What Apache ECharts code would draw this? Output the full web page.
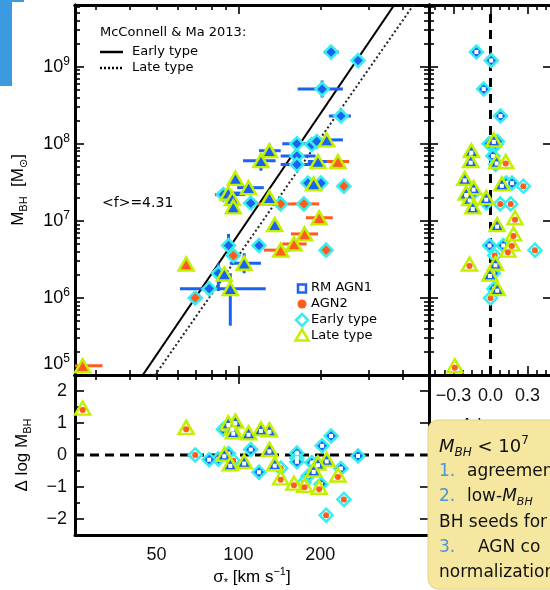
<!DOCTYPE html>
<html>
<head>
<meta charset="utf-8">
<title>MBH - sigma relation</title>
<script src="https://cdn.jsdelivr.net/npm/echarts@6.0.0/dist/echarts.min.js"></script>
<style>
html,body{margin:0;padding:0;background:#ffffff;}
#chart{width:550px;height:590px;}
</style>
</head>
<body>
<div id="chart"></div>
<script>
// ===== Data =====
// stellar velocity dispersion sigma_* (km/s)
const sigma = [219, 275, 203, 238, 211, 164, 186, 194, 164, 196,
               232, 164, 130, 121, 180, 201, 189, 244, 97.5, 109,
               91.8, 88.1, 95, 95.8, 111, 130, 143, 174, 198, 136,
               175, 160, 143, 119, 210, 64.3, 92, 95.8, 105, 84.4,
               88.8, 78.1, 93.4, 69.4, 26.8];
// log10 black-hole mass (Msun)
const logMbh = [9.19, 9.08, 8.71, 8.36, 8.05, 8.00, 7.99, 8.03, 7.84, 7.77,
                7.77, 7.73, 7.91, 7.78, 7.49, 7.49, 7.48, 7.45, 7.55, 7.43,
                7.36, 7.34, 7.29, 7.18, 7.23, 7.30, 7.22, 7.22, 7.04, 6.95,
                6.83, 6.70, 6.62, 6.68, 6.62, 6.44, 6.68, 6.55, 6.45, 6.32,
                6.31, 6.12, 6.12, 6.00, 5.12];
// host morphology: E = early type, L = late type
const morphology = ['E','E','E','E','L','E','E','E','E','L',
                    'L','E','L','L','E','E','L','E','L','L',
                    'L','E','L','L','E','L','E','E','L','L',
                    'L','L','L','E','E','L','E','E','L','E',
                    'L','E','L','E','L'];
// AGN class: 1 = RM AGN1, 2 = AGN2
const agnClass = [1,1,1,1,1,1,1,1,1,1,
                  2,1,1,1,1,1,1,2,1,1,
                  1,1,1,1,1,1,2,2,2,1,
                  2,2,2,1,2,2,1,2,1,1,
                  1,1,1,2,2];
// error-bar ends (sigma in km/s, mass in log10 Msun); null = no bar drawn
const sigmaErrLow = [206, null, 165, 215, 189, 145, null, null, 143, 180,
                     211, 143, 119, 104, null, null, null, null, null, 99,
                     84, 82, null, null, null, null, 113, 156, 177, null,
                     156, 145, 124, null, null, null, null, null, 93, null,
                     null, null, 61, null, 25.1];
const sigmaErrHigh = [234, null, 242, 259, 242, 188, null, null, 192, 215,
                      255, 206, 143, 137, null, null, null, null, null, 124,
                      102, 106, null, null, null, null, 156, 198, 222, null,
                      196, 178, 156, null, null, null, null, null, 121, null,
                      null, null, 126, null, 31.7];
const logMErrLow = [null, null, 8.60, null, null, null, null, null, null, null,
                    null, null, null, 7.65, null, null, null, null, null, null,
                    null, null, null, null, null, null, null, null, null, null,
                    null, null, null, null, null, null, 6.52, null, 6.32, 6.09,
                    null, null, 5.64, null, null];
const logMErrHigh = [null, null, 8.82, null, null, null, null, null, null, null,
                     null, null, null, 7.87, null, null, null, null, null, null,
                     null, null, null, null, null, null, null, null, null, null,
                     null, null, null, null, null, null, 6.83, null, 6.58, 6.45,
                     null, null, 6.32, null, null];
// McConnell & Ma 2013 relations: log M = a + b log(sigma/200)
const mm13Early = {a: 8.39, b: 5.20};
const mm13Late  = {a: 8.07, b: 5.06};
const sigmaRef = 200;
// tick values / labels
const massDecades = [5, 6, 7, 8, 9];
const sigmaLabels = [50, 100, 200];
const sigmaMajor = [100];
const sigmaMinor = [30, 40, 50, 60, 70, 80, 90, 200, 300, 400];
const residualTicks = [-2, -1, 0, 1, 2];
const residualMinor = [-1.5, -0.5, 0.5, 1.5];
const dSigmaTicks = [-0.3, 0, 0.3];
const dSigmaMinorStep = 0.075;

// ===== derived =====
const lg = Math.log10;
const LS0 = lg(sigmaRef);
const X_RANGE = [1.4, 2.7], Y_RANGE = [5, 9.8], R_RANGE = [-2.5, 2.5], DS_RANGE = [-0.5, 0.5];
const FONT = 'Liberation Sans, DejaVu Sans, Arial, sans-serif';
const LFONT = 'DejaVu Sans, sans-serif';
const BLUE = '#1a62f2', CYAN = '#36eeee', YG = '#c2f000', ORANGE = '#ff5a1f';

const rel = m => (m === 'E' ? mm13Early : mm13Late);
const pts = sigma.map((s, i) => {
  const ls = lg(s), lm = logMbh[i], r = rel(morphology[i]);
  const dM = lm - (r.a + r.b * (ls - LS0));
  const dS = ls - ((lm - r.a) / r.b + LS0);
  return {i, ls, lm, dM, dS, m: morphology[i], c: agnClass[i]};
});

const massMinor = [];
massDecades.forEach(d => { for (let k = 2; k <= 9; k++) { const v = d + lg(k); if (v <= Y_RANGE[1]) massMinor.push(v); } });
const dsMinor = [];
for (let k = -6; k <= 6; k++) { if (k % 4 !== 0) dsMinor.push(+(k * dSigmaMinorStep).toFixed(4)); }

const TICK_RICH = {
  b: {fontSize: 18, fontFamily: FONT, color: '#000', lineHeight: 22},
  s: {fontSize: 12, fontFamily: FONT, color: '#000', lineHeight: 12, verticalAlign: 'top'}
};
const NAME_RICH = {
  t: {fontSize: 17, fontFamily: FONT, color: '#000', lineHeight: 22},
  sub: {fontSize: 11, fontFamily: FONT, color: '#000', lineHeight: 11, verticalAlign: 'bottom'},
  sup: {fontSize: 11, fontFamily: FONT, color: '#000', lineHeight: 11, verticalAlign: 'top'}
};

function ax(grid, pos, range, ticks, len, extra) {
  return Object.assign({
    type: 'value', gridIndex: grid, position: pos, min: range[0], max: range[1],
    axisLine: {show: true, onZero: false, lineStyle: {color: '#000', width: 3}},
    axisTick: {show: ticks.length > 0, inside: true, length: len, customValues: ticks,
               lineStyle: {color: '#000', width: 1.6}},
    axisLabel: {show: false},
    splitLine: {show: false}
  }, extra || {});
}

const lgMajor = sigmaMajor.map(lg), lgMinor = sigmaMinor.map(lg);

const xAxes = [
  ax(0, 'bottom', X_RANGE, lgMajor, 9),
  ax(0, 'bottom', X_RANGE, lgMinor, 5),
  ax(0, 'top', X_RANGE, lgMajor, 9),
  ax(0, 'top', X_RANGE, lgMinor, 5),
  ax(1, 'bottom', X_RANGE, [], 0, {
    axisLabel: {show: true, customValues: sigmaLabels.map(lg), formatter: v => String(Math.round(Math.pow(10, v))),
                margin: 11, fontSize: 18, fontFamily: FONT, color: '#111'},
    name: '{t|σ}{sub|*}{t| [km s}{sup|−1}{t|]}', nameLocation: 'middle', nameGap: 31,
    nameTextStyle: {rich: NAME_RICH}
  }),
  ax(1, 'top', X_RANGE, lgMajor, 9),
  ax(1, 'top', X_RANGE, lgMinor, 5),
  ax(2, 'bottom', DS_RANGE, dSigmaTicks, 9, {
    axisLabel: {show: true, customValues: dSigmaTicks,
                formatter: v => (v < 0 ? '\u2212' : '') + Math.abs(v).toFixed(1),
                margin: 12, fontSize: 18, fontFamily: FONT, color: '#111'},
    name: '{t|Δ log σ}{sub|*}', nameLocation: 'middle', nameGap: 39,
    nameTextStyle: {rich: NAME_RICH}
  }),
  ax(2, 'bottom', DS_RANGE, dsMinor, 5),
  ax(2, 'top', DS_RANGE, dSigmaTicks, 9),
  ax(2, 'top', DS_RANGE, dsMinor, 5)
];

const yAxes = [
  ax(0, 'left', Y_RANGE, massDecades, 9, {
    axisLabel: {show: true, customValues: massDecades, formatter: v => '{b|10}{s|' + Math.round(v) + '}',
                margin: 5, rich: TICK_RICH, verticalAlignMinLabel: 'bottom'},
    name: '{t|M}{sub|BH}{t|  [M}{sub|⊙}{t|]}', nameLocation: 'middle', nameRotate: 90, nameGap: 46,
    nameTextStyle: {rich: NAME_RICH}
  }),
  ax(0, 'left', Y_RANGE, massMinor, 5),
  ax(0, 'right', Y_RANGE, massDecades, 9),
  ax(0, 'right', Y_RANGE, massMinor, 5),
  ax(1, 'left', R_RANGE, residualTicks, 9, {
    axisLabel: {show: true, customValues: residualTicks,
                formatter: v => (v < 0 ? '\u2212' : '') + Math.abs(v),
                margin: 8, fontSize: 18, fontFamily: FONT, color: '#111'},
    name: '{t|Δ log M}{sub|BH}', nameLocation: 'middle', nameRotate: 90, nameGap: 42,
    nameTextStyle: {rich: NAME_RICH}
  }),
  ax(1, 'left', R_RANGE, residualMinor, 5),
  ax(1, 'right', R_RANGE, residualTicks, 9),
  ax(2, 'left', Y_RANGE, massDecades, 9),
  ax(2, 'left', Y_RANGE, massMinor, 5),
  ax(2, 'right', Y_RANGE, massDecades, 9)
];

// ===== series =====
const SYM = {E: {symbol: 'diamond', size: 13}, L: {symbol: 'triangle', size: [15, 13]}};
const EDGE = {E: CYAN, L: YG};

function markerSeries(xi, yi, fx, fy, detailed) {
  const out = [];
  ['E', 'L'].forEach(m => {
    [1, 2].forEach(c => {
      const data = pts.filter(p => p.m === m && p.c === c).map(p => [fx(p), fy(p)]);
      if (!data.length) return;
      const fill = detailed ? (c === 1 ? BLUE : '#ffffff') : (c === 1 ? BLUE : ORANGE);
      out.push({type: 'scatter', xAxisIndex: xi, yAxisIndex: yi, data, symbol: SYM[m].symbol,
                symbolSize: SYM[m].size, silent: true, z: m === 'E' ? 3 : 4,
                itemStyle: {color: fill, borderColor: EDGE[m], borderWidth: 2.5, opacity: 1}});
      if (detailed) {
        out.push({type: 'scatter', xAxisIndex: xi, yAxisIndex: yi, data,
                  symbol: c === 1 ? 'rect' : 'circle', symbolSize: c === 1 ? 4 : 6,
                  symbolOffset: m === 'L' ? [0, 2] : [0, 0], silent: true, z: m === 'E' ? 3 : 4,
                  itemStyle: {color: c === 1 ? '#ffffff' : ORANGE, opacity: 1}});
      }
    });
  });
  return out;
}

const errData = pts.map(p => [p.ls, p.lm,
  sigmaErrLow[p.i] == null ? NaN : lg(sigmaErrLow[p.i]),
  sigmaErrHigh[p.i] == null ? NaN : lg(sigmaErrHigh[p.i]),
  logMErrLow[p.i] == null ? NaN : logMErrLow[p.i],
  logMErrHigh[p.i] == null ? NaN : logMErrHigh[p.i],
  p.c]);

const errorSeries = {
  type: 'custom', xAxisIndex: 0, yAxisIndex: 0, clip: true, silent: true, z: 2,
  data: errData,
  renderItem: (params, api) => {
    const x = api.value(0), y = api.value(1);
    const sl = api.value(2), sh = api.value(3), ml = api.value(4), mh = api.value(5);
    const color = api.value(6) === 1 ? BLUE : ORANGE;
    const children = [];
    if (isFinite(sl) && isFinite(sh)) {
      const a = api.coord([sl, y]), b = api.coord([sh, y]);
      children.push({type: 'line', shape: {x1: a[0], y1: a[1], x2: b[0], y2: b[1]}, style: {stroke: color, lineWidth: 3}});
    }
    if (isFinite(ml) && isFinite(mh)) {
      const a = api.coord([x, ml]), b = api.coord([x, mh]);
      children.push({type: 'line', shape: {x1: a[0], y1: a[1], x2: b[0], y2: b[1]}, style: {stroke: color, lineWidth: 3}});
    }
    return {type: 'group', children};
  }
};

const relLine = r => X_RANGE.map(x => [x, r.a + r.b * (x - LS0)]);

const series = [
  errorSeries,
  {type: 'line', xAxisIndex: 0, yAxisIndex: 0, data: relLine(mm13Early), symbol: 'none', silent: true, z: 1,
   clip: true, lineStyle: {color: '#000', width: 2}},
  {type: 'line', xAxisIndex: 0, yAxisIndex: 0, data: relLine(mm13Late), symbol: 'none', silent: true, z: 1,
   clip: true, lineStyle: {color: '#222', width: 2, type: [2, 2.5]}},
  ...markerSeries(0, 0, p => p.ls, p => p.lm, false),
  {type: 'line', xAxisIndex: 4, yAxisIndex: 4, data: X_RANGE.map(x => [x, 0]), symbol: 'none', silent: true, z: 1,
   lineStyle: {color: '#000', width: 3, type: [9, 6]}},
  ...markerSeries(4, 4, p => p.ls, p => p.dM, true),
  {type: 'line', xAxisIndex: 7, yAxisIndex: 7, data: Y_RANGE.map(y => [0, y]), symbol: 'none', silent: true, z: 1,
   lineStyle: {color: '#000', width: 3, type: [9, 7]}},
  ...markerSeries(7, 7, p => p.dS, p => p.lm, true)
];

// ===== annotations =====
const LT = {fontSize: 13, fontFamily: LFONT, fill: '#000', verticalAlign: 'middle', align: 'left'};
const BOX = {fontSize: 17, fontFamily: LFONT, fill: '#111', verticalAlign: 'middle', align: 'left'};
const NUM = Object.assign({}, BOX, {fill: '#4b95d8'});
const ZB = 300;
const graphics = [
  {type: 'rect', shape: {x: 0, y: 0, width: 12, height: 86}, style: {fill: '#3c9ae0'}, z: 50},
  {type: 'rect', shape: {x: 0, y: 0, width: 24, height: 2}, style: {fill: '#3c9ae0'}, z: 50},
  {type: 'text', x: 100, y: 33, style: Object.assign({text: 'McConnell & Ma 2013:'}, LT)},
  {type: 'line', shape: {x1: 100, y1: 52, x2: 123, y2: 52}, style: {stroke: '#000', lineWidth: 2.5}},
  {type: 'text', x: 132, y: 52, style: Object.assign({text: 'Early type'}, LT)},
  {type: 'line', shape: {x1: 100, y1: 68, x2: 123, y2: 68}, style: {stroke: '#000', lineWidth: 2.5, lineDash: [2, 2]}},
  {type: 'text', x: 132, y: 68, style: Object.assign({text: 'Late type'}, LT)},
  {type: 'text', x: 102, y: 203, style: Object.assign({text: '<f>=4.31'}, LT, {fontSize: 14})},
  {type: 'rect', shape: {x: 298, y: 284.5, width: 8, height: 8}, style: {fill: '#fff', stroke: BLUE, lineWidth: 2.5}},
  {type: 'circle', shape: {cx: 302, cy: 304, r: 4.5}, style: {fill: ORANGE}},
  {type: 'polygon', shape: {points: [[302, 314], [308, 320], [302, 326], [296, 320]]}, style: {fill: '#fff', stroke: CYAN, lineWidth: 2.5}},
  {type: 'polygon', shape: {points: [[302, 329.5], [308.5, 340.5], [295.5, 340.5]]}, style: {fill: '#fff', stroke: YG, lineWidth: 2.5}},
  {type: 'text', x: 311, y: 288, style: Object.assign({text: 'RM AGN1'}, LT)},
  {type: 'text', x: 311, y: 304, style: Object.assign({text: 'AGN2'}, LT)},
  {type: 'text', x: 311, y: 320, style: Object.assign({text: 'Early type'}, LT)},
  {type: 'text', x: 311, y: 336, style: Object.assign({text: 'Late type'}, LT)},
  // highlighted note box overlapping the lower-right corner
  {type: 'rect', z: ZB, shape: {x: 428, y: 420, width: 150, height: 169, r: 10}, style: {fill: '#f5e6a0', stroke: '#e3d184', lineWidth: 1}},
  {type: 'text', z: ZB + 1, x: 439, y: 447, style: {text: '{m|M}{sub|BH}{t| < 10}{sup|7}', verticalAlign: 'middle', align: 'left',
    rich: {m: {fontSize: 18, fontFamily: LFONT, fontStyle: 'italic', fill: '#111', lineHeight: 24},
           t: {fontSize: 18, fontFamily: LFONT, fill: '#111', lineHeight: 24},
           sub: {fontSize: 12, fontFamily: LFONT, fontStyle: 'italic', fill: '#111', lineHeight: 12, verticalAlign: 'bottom'},
           sup: {fontSize: 12, fontFamily: LFONT, fill: '#111', lineHeight: 12, verticalAlign: 'top'}}}},
  {type: 'text', z: ZB + 1, x: 439, y: 472, style: Object.assign({text: '1.'}, NUM)},
  {type: 'text', z: ZB + 1, x: 467, y: 472, style: Object.assign({text: 'agreement'}, BOX)},
  {type: 'text', z: ZB + 1, x: 439, y: 497, style: Object.assign({text: '2.'}, NUM)},
  {type: 'text', z: ZB + 1, x: 467, y: 497, style: {text: '{t|low-}{m|M}{sub|BH}', verticalAlign: 'middle', align: 'left',
    rich: {t: {fontSize: 17, fontFamily: LFONT, fill: '#111', lineHeight: 22},
           m: {fontSize: 17, fontFamily: LFONT, fontStyle: 'italic', fill: '#111', lineHeight: 22},
           sub: {fontSize: 11, fontFamily: LFONT, fontStyle: 'italic', fill: '#111', lineHeight: 11, verticalAlign: 'bottom'}}}},
  {type: 'text', z: ZB + 1, x: 439, y: 523, style: Object.assign({text: 'BH seeds for'}, BOX)},
  {type: 'text', z: ZB + 1, x: 439, y: 548, style: Object.assign({text: '3.'}, NUM)},
  {type: 'text', z: ZB + 1, x: 478, y: 548, style: Object.assign({text: 'AGN co'}, BOX)},
  {type: 'text', z: ZB + 1, x: 439, y: 573, style: Object.assign({text: 'normalization'}, BOX)}
];

const option = {
  animation: false,
  backgroundColor: '#ffffff',
  textStyle: {fontFamily: FONT},
  grid: [
    {left: 75, top: 5, width: 354, height: 370, containLabel: false, outerBoundsMode: 'none'},
    {left: 75, top: 375, width: 354, height: 160, containLabel: false, outerBoundsMode: 'none'},
    {left: 429, top: 5, width: 123, height: 370, containLabel: false, outerBoundsMode: 'none'}
  ],
  xAxis: xAxes,
  yAxis: yAxes,
  series,
  graphic: {elements: graphics}
};

const chart = echarts.init(document.getElementById('chart'), null, {renderer: 'canvas', width: 550, height: 590});
chart.setOption(option);
</script>
</body>
</html>
